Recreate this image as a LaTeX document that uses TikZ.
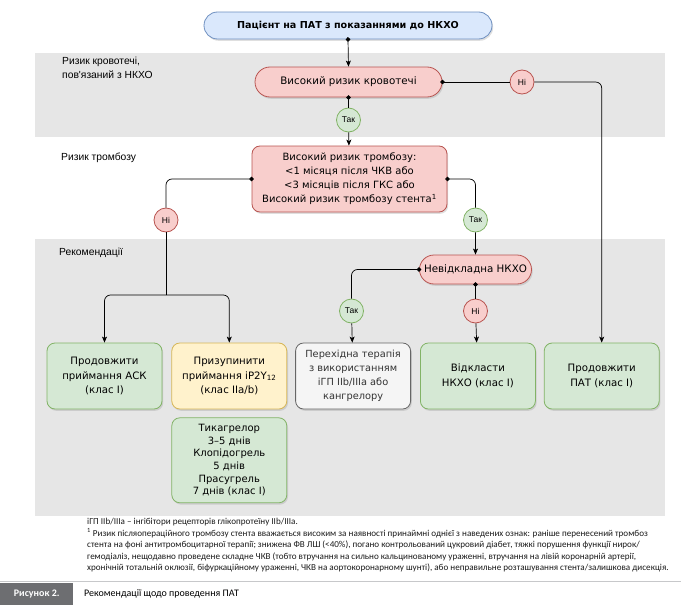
\documentclass[tikz,border=0pt]{standalone}
\usepackage{fontspec}
\setmainfont{DejaVu Sans}
\newfontfamily\labelfont{Liberation Sans}
\newfontfamily\notefont{Carlito}
\usetikzlibrary{positioning,arrows.meta,shapes.misc,shadows}

\definecolor{bandgray}{HTML}{E6E6E6}
\definecolor{bluefill}{HTML}{DAE8FC}
\definecolor{blueline}{HTML}{6C8EBF}
\definecolor{redfill}{HTML}{F8CECC}
\definecolor{redline}{HTML}{B85450}
\definecolor{greenfill}{HTML}{D5E8D4}
\definecolor{greenline}{HTML}{82B366}
\definecolor{yellowfill}{HTML}{FFF2CC}
\definecolor{yellowline}{HTML}{D6B656}
\definecolor{whitefill}{HTML}{F5F5F5}
\definecolor{whiteline}{HTML}{666666}
\definecolor{captiongray}{HTML}{6D6E71}
\definecolor{ruleline}{HTML}{C7C8CA}

\tikzset{
  shade/.style={drop shadow={shadow xshift=1.2pt,shadow yshift=-1.8pt,opacity=.25}},
  box/.style={rectangle, rounded corners=8pt, draw, line width=0.8pt, shade,
    minimum width=115pt, minimum height=66pt, inner sep=2pt, align=center,
    font=\fontsize{10.2}{14.5}\selectfont},
  greenbox/.style={box, fill=greenfill, draw=greenline},
  yellowbox/.style={box, fill=yellowfill, draw=yellowline},
  graybox/.style={box, fill=whitefill, draw=whiteline, text=black!80},
  redbox/.style={box, fill=redfill, draw=redline, font=\fontsize{10}{14}\selectfont},
  pill/.style={rounded rectangle, draw, line width=0.8pt, shade, inner sep=2pt,
    font=\fontsize{10.3}{12}\selectfont},
  pillred/.style={pill, fill=redfill, draw=redline},
  tag/.style={circle, draw, line width=0.8pt, minimum size=24pt, inner sep=0pt,
    font=\labelfont\fontsize{8.5}{9}\selectfont},
  yestag/.style={tag, fill=greenfill, draw=greenline},
  notag/.style={tag, fill=redfill, draw=redline},
  rowlabel/.style={inner sep=0pt, align=left, font=\labelfont\fontsize{10.3}{13.5}\selectfont},
  link/.style={line width=0.7pt, -{Stealth[length=6pt,width=5pt,inset=1.5pt]}},
  dotlink/.style={line width=0.7pt, {Circle[length=4.5pt]}-{Stealth[length=6pt,width=5pt,inset=1.5pt]}, shorten <=-2.25pt},
  dotline/.style={line width=0.7pt, {Circle[length=4.5pt]}-, shorten <=-2.25pt},
}

\begin{document}
\begin{tikzpicture}[x=1pt,y=-1pt]
 \useasboundingbox (0,0) rectangle (681,605);

 %Bands
 \fill[bandgray] (35,53) rectangle (665,137);
 \fill[bandgray] (35,239) rectangle (665,516);
 \node (lblbleed) [rowlabel, anchor=north west] at (62,57) {Ризик кровотечі,\\пов'язаний з НКХО};
 \node (lblthromb) [rowlabel, anchor=west] at (61,158) {Ризик тромбозу};
 \node (lblrec) [rowlabel, anchor=west] at (59,253) {Рекомендації};

 %Decisions
 \node (start) [pill, fill=bluefill, draw=blueline, minimum width=292pt, minimum height=27pt,
   font=\bfseries\fontsize{9.6}{12}\selectfont] at (348,25.5) {Пацієнт на ПАТ з показаннями до НКХО};
 \node (bleed) [pillred, minimum width=191pt, minimum height=30pt] at (348.5,82) {Високий ризик кровотечі};
 \node (thromb) [redbox, minimum width=195pt] at (349.5,179) {Високий ризик тромбозу:\\<1 місяця після ЧКВ або\\<3 місяців після ГКС або\\Високий ризик тромбозу стента\textsuperscript{1}};
 \node (urgent) [pillred, minimum width=116pt, minimum height=29pt] at (475.5,269.5) {Невідкладна НКХО};

 %Recommendations
 \node (keepASA) [greenbox] at (104.5,376) {Продовжити\\приймання АСК\\(клас I)};
 \node (stopP2Y) [yellowbox, right=9pt of keepASA] {Призупинити\\приймання іP2Y\textsubscript{12}\\(клас IIa/b)};
 \node (bridge) [graybox, right=8pt of stopP2Y, font=\fontsize{9.8}{14}\selectfont] {Перехідна терапія\\з використанням\\іГП IIb/IIIa або\\кангрелору};
 \node (delay) [greenbox, right=9pt of bridge] {Відкласти\\НКХО (клас I)};
 \node (keepDAPT) [greenbox, right=8pt of delay] {Продовжити\\ПАТ (клас I)};
 \node (washout) [greenbox, below=8pt of stopP2Y, minimum height=85pt,
   font=\fontsize{10}{12.6}\selectfont] {Тикагрелор\\3–5 днів\\Клопідогрель\\5 днів\\Прасугрель\\7 днів (клас I)};

 %Yes/No
 \node (yesA) [yestag] at (348.5,120) {Так};
 \node (noA) [notag] at (522,82) {Ні};
 \node (noB) [notag] at (166,220) {Ні};
 \node (yesB) [yestag] at (475.5,220) {Так};
 \node (yesC) [yestag] at (351.5,311) {Так};
 \node (noC) [notag] at (475.5,311) {Ні};
 \coordinate (split) at (166,295);

 %Connectors
 \draw[dotlink] (start.south) -- (bleed.north);
 \draw[dotline] (bleed.south) -- (yesA);
 \draw[link] (yesA) -- (thromb);
 \draw[dotline] (bleed.east) -- (noA);
 \draw[link, rounded corners=6pt] (noA) -| (keepDAPT);
 \draw[dotline, rounded corners=6pt] (thromb.east) -| (yesB);
 \draw[link] (yesB) -- (urgent);
 \draw[dotline, rounded corners=6pt] (thromb.west) -| (noB);
 \draw[line width=0.7pt] (noB) -- (split);
 \draw[link, rounded corners=6pt] (split) -| (keepASA);
 \draw[link, rounded corners=6pt] (split) -| (stopP2Y);
 \draw[dotline, rounded corners=6pt] (urgent.west) -| (yesC);
 \draw[link] (yesC) -- (bridge);
 \draw[dotline] (urgent.south) -- (noC);
 \draw[link] (noC) -- (delay);

 %Notes
 \node (notes) [anchor=north west, inner sep=0pt, align=left, text=black!90,
   font=\notefont\fontsize{9.1}{11.6}\selectfont] at (87,518) {іГП IIb/IIIa – інгібітори рецепторів глікопротеїну IIb/IIIa.\\
   \textsuperscript{1} Ризик післяопераційного тромбозу стента вважається високим за наявності принаймні однієї з наведених ознак: раніше перенесений тромбоз\\
   стента на фоні антитромбоцитарної терапії; знижена ФВ ЛШ (<40\%), погано контрольований цукровий діабет, тяжкі порушення функції нирок/\\
   гемодіаліз, нещодавно проведене складне ЧКВ (тобто втручання на сильно кальцинованому ураженні, втручання на лівій коронарній артерії,\\
   хронічній тотальній оклюзії, біфуркаційному ураженні, ЧКВ на аортокоронарному шунті), або неправильне розташування стента/залишкова дисекція.};

 %Caption
 \draw[ruleline, line width=1.5pt] (0,581.5) -- (681,581.5);
 \node (figno) [anchor=north west, fill=captiongray, text=white, minimum width=73pt, minimum height=23pt,
   inner sep=0pt, font=\notefont\bfseries\fontsize{10}{12}\selectfont] at (0,582.5) {Рисунок 2.};
 \node (figtitle) [anchor=west, inner sep=0pt, font=\notefont\fontsize{10}{12}\selectfont] at (84,594) {Рекомендації щодо проведення ПАТ};
\end{tikzpicture}
\end{document}
